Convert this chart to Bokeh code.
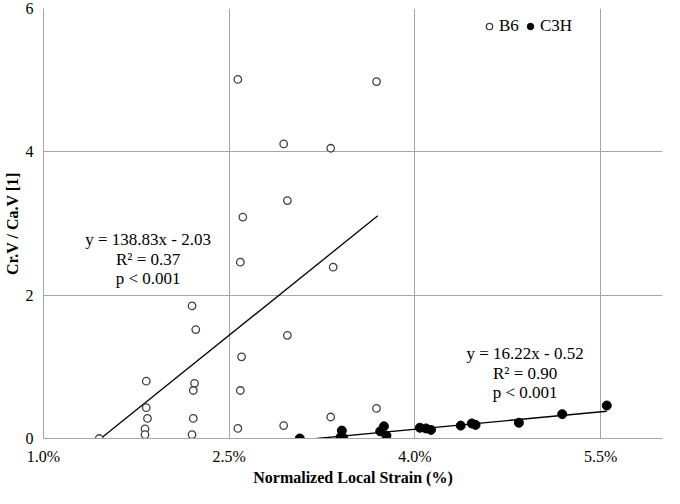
from bokeh.plotting import figure
from bokeh.models import (Range1d, FixedTicker, PrintfTickFormatter, Label, Legend, LegendItem)
from bokeh.embed import file_html
from bokeh.resources import INLINE

# ---- data ----
b6_x = [1.45, 1.83, 1.83, 1.84, 1.82, 1.82, 2.20, 2.23, 2.22, 2.21, 2.21, 2.20,
        2.59, 2.60, 2.59, 2.57, 2.97, 2.94, 3.34, 3.32, 3.69,
        2.57, 3.69, 2.94, 3.32, 2.97, 2.61]
b6_y = [0.00, 0.80, 0.43, 0.28, 0.135, 0.054, 1.85, 1.52, 0.77, 0.67, 0.28, 0.054,
        2.46, 1.14, 0.67, 0.14, 1.44, 0.18, 2.39, 0.30, 0.42,
        5.01, 4.98, 4.11, 4.05, 3.32, 3.09]

c3h_x = [3.07, 3.41, 3.40, 3.42, 3.75, 3.72, 3.77, 4.04, 4.09, 4.13, 4.37,
         4.46, 4.49, 4.84, 5.19, 5.55]
c3h_y = [0.00, 0.11, 0.02, 0.01, 0.17, 0.10, 0.04, 0.15, 0.14, 0.12, 0.18,
         0.21, 0.19, 0.22, 0.34, 0.46]

# linear fits (slope per %, intercept) and x-extent of each fit line
fit_b6 = dict(slope=1.3883, intercept=-2.03, x0=1.46, x1=3.70)
fit_c3h = dict(slope=0.1622, intercept=-0.52, x0=3.21, x1=5.55)

ann_b6 = ["y = 138.83x - 2.03", "R\u00b2 = 0.37", "p < 0.001"]
ann_c3h = ["y = 16.22x - 0.52", "R\u00b2 = 0.90", "p < 0.001"]

x_ticks = [1.0, 2.5, 4.0, 5.5]
y_ticks = [0, 2, 4, 6]

FONT = "Liberation Serif"
GRID = "#a6a6a6"

p = figure(width=664, height=488, output_backend="svg", toolbar_location=None,
           x_range=Range1d(1.0, 6.0), y_range=Range1d(0, 6),
           min_border_top=8, min_border_right=2, min_border_left=0, min_border_bottom=0)
p.outline_line_color = None
p.background_fill_color = "white"

for ax in (p.xaxis[0], p.yaxis[0]):
    ax.major_tick_line_color = None
    ax.minor_tick_line_color = None
    ax.major_tick_out = 0
    ax.major_tick_in = 0
    ax.minor_tick_out = 0
    ax.minor_tick_in = 0
    ax.axis_line_color = GRID
    ax.axis_line_width = 1
    ax.major_label_text_font = FONT
    ax.major_label_text_font_size = "16px"
    ax.major_label_text_color = "black"
    ax.axis_label_text_font = FONT
    ax.axis_label_text_font_size = "16px"
    ax.axis_label_text_font_style = "bold"
    ax.axis_label_text_color = "black"

p.xaxis.ticker = FixedTicker(ticks=x_ticks)
p.xaxis.formatter = PrintfTickFormatter(format="%.1f%%")
p.xaxis.axis_label = "Normalized Local Strain (%)"
p.xaxis.major_label_standoff = 9
p.xaxis.axis_label_standoff = 1

p.yaxis.ticker = FixedTicker(ticks=y_ticks)
p.yaxis.axis_label = "Cr.V / Ca.V [1]"
p.yaxis.major_label_standoff = 10
p.yaxis.axis_label_standoff = 2

p.xgrid.grid_line_color = GRID
p.ygrid.grid_line_color = GRID
p.xgrid.grid_line_width = 1
p.ygrid.grid_line_width = 1

# fit lines
for f in (fit_b6, fit_c3h):
    xs = [f["x0"], f["x1"]]
    ys = [f["slope"] * x + f["intercept"] for x in xs]
    p.line(xs, ys, line_color="black", line_width=1.3)

r_b6 = p.scatter(b6_x, b6_y, marker="circle", size=7.5, fill_color="white",
                 line_color="#404040", line_width=1.3)
r_c3h = p.scatter(c3h_x, c3h_y, marker="circle", size=9, fill_color="black",
                  line_color="black", line_width=1)

# annotations
for txt, yy in zip(ann_b6, [2.77, 2.50, 2.23]):
    p.add_layout(Label(x=1.845, y=yy, text=txt, text_align="center", text_baseline="middle",
                       text_font=FONT, text_font_size="17px", text_color="black"))
for txt, yy in zip(ann_c3h, [1.18, 0.905, 0.635]):
    p.add_layout(Label(x=4.89, y=yy, text=txt, text_align="center", text_baseline="middle",
                       text_font=FONT, text_font_size="17px", text_color="black"))

legend = Legend(items=[LegendItem(label="B6", renderers=[r_b6]),
                       LegendItem(label="C3H", renderers=[r_c3h])],
                orientation="horizontal", location=(438, 402))
legend.border_line_color = None
legend.background_fill_alpha = 0
legend.label_text_font = FONT
legend.label_text_font_size = "17px"
legend.label_text_color = "black"
legend.glyph_width = 16
legend.glyph_height = 16
legend.label_standoff = 2
legend.spacing = 3
legend.padding = 0
legend.margin = 0
p.add_layout(legend)

open("out.html", "w").write(file_html(p, INLINE))
